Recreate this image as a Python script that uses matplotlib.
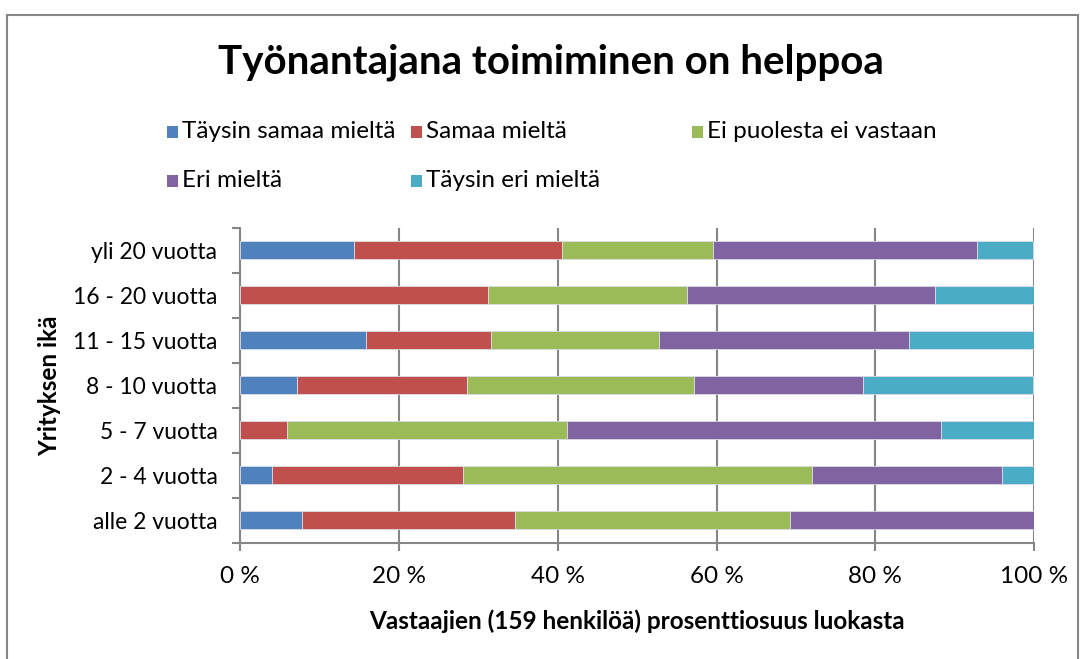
import matplotlib
matplotlib.use("Agg")
import matplotlib.pyplot as plt
import matplotlib.patches as patches
import numpy as np

plt.rcParams['font.family'] = ['Lato', 'DejaVu Sans']

# Yrityksen ikäluokat (alhaalta ylös)
categories = ['alle 2 vuotta', '2 - 4 vuotta', '5 - 7 vuotta', '8 - 10 vuotta',
              '11 - 15 vuotta', '16 - 20 vuotta', 'yli 20 vuotta']

series_names = ['Täysin samaa mieltä', 'Samaa mieltä', 'Ei puolesta ei vastaan',
                'Eri mieltä', 'Täysin eri mieltä']

# Prosenttiosuudet luokittain
taysin_samaa = [7.7, 4.0, 0.0, 7.1, 15.8, 0.0, 14.3]
samaa = [26.9, 24.0, 5.9, 21.4, 15.8, 31.25, 26.2]
ei_puolesta = [34.6, 44.0, 35.3, 28.6, 21.1, 25.0, 19.0]
eri = [30.8, 24.0, 47.1, 21.4, 31.6, 31.25, 33.3]
taysin_eri = [0.0, 4.0, 11.8, 21.4, 15.8, 12.5, 7.1]

colors = ['#4F81BD', '#C0504D', '#9BBB59', '#8064A2', '#4BACC6']

x_ticks = [0, 20, 40, 60, 80, 100]

FS = 17.5

fig = plt.figure(figsize=(10.82, 6.59), dpi=100)
ax = fig.add_axes([240.4 / 1082, 1 - 542.7 / 659, (1034 - 240.4) / 1082, (542.7 - 228) / 659])

values = [taysin_samaa, samaa, ei_puolesta, eri, taysin_eri]
y = np.arange(len(categories))
left = np.zeros(len(categories))
for vals, col, name in zip(values, colors, series_names):
    ax.barh(y, vals, left=left, height=0.4, color=col, edgecolor='#dcdce6',
            linewidth=0.6, label=name, zorder=3)
    left += np.array(vals)

ax.set_xlim(0, 100)
ax.set_ylim(-0.5, len(categories) - 0.5)
ax.set_xticks(x_ticks)
ax.set_xticklabels([f'{t} %' for t in x_ticks], fontsize=FS)
ax.set_yticks(y)
ax.set_yticklabels(categories, fontsize=16.5)

# Väliviivat luokkien rajoille
ax.set_yticks(np.arange(-0.5, len(categories), 1.0), minor=True)
ax.tick_params(axis='y', which='major', length=0, pad=16.5)
ax.tick_params(axis='y', which='minor', length=6, width=1.5, color='#868686', direction='out')
ax.tick_params(axis='x', length=6, width=1.5, color='#868686', direction='out', pad=11)

ax.grid(axis='x', color='#868686', linewidth=1.5, zorder=0)
for side in ['top', 'right']:
    ax.spines[side].set_visible(False)
for side in ['left', 'bottom']:
    ax.spines[side].set_color('#868686')
    ax.spines[side].set_linewidth(1.5)

ax.set_xlabel('Vastaajien (159 henkilöä) prosenttiosuus luokasta', fontsize=FS,
              fontweight='bold', labelpad=16)
ax.set_ylabel('Yrityksen ikä', fontsize=FS, fontweight='bold')
ax.yaxis.set_label_coords(-0.226, 0.5)

fig.text(551 / 1082, 1 - 62 / 659, 'Työnantajana toimiminen on helppoa',
         fontsize=29, fontweight='bold', ha='center', va='center')

# Selite käsin sijoiteltuna
legend_pos = [(167, 132), (411, 132), (692, 132), (167, 181), (411, 181)]
for (lx, ly), col, name in zip(legend_pos, colors, series_names):
    fig.patches.append(patches.Rectangle(
        (lx / 1082, 1 - (ly + 6) / 659), 11 / 1082, 12 / 659,
        transform=fig.transFigure, facecolor=col, edgecolor='none'))
    fig.text((lx + 15) / 1082, 1 - ly / 659, name, fontsize=FS,
             ha='left', va='center')

# Kehys kaavion ympärillä
fig.patches.append(patches.Rectangle(
    (7 / 1082, -0.05), (1078 - 7) / 1082, 1.05 - 15 / 659,
    transform=fig.transFigure, facecolor='none', edgecolor='#868686', linewidth=1.5))

plt.savefig('out.png', dpi=100)
plt.close()
